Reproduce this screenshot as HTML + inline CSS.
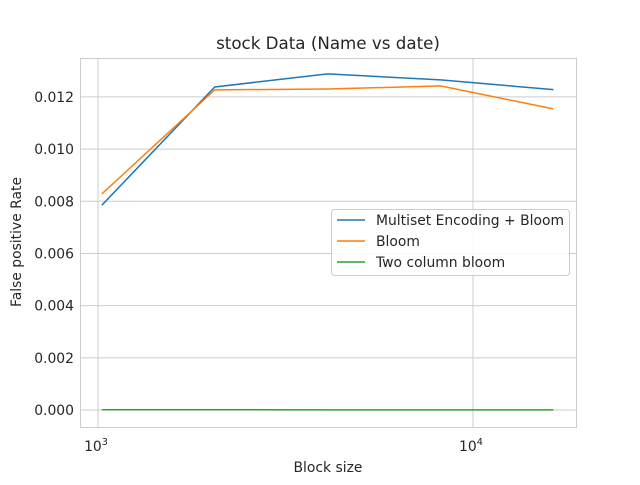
<!DOCTYPE html>
<html><head><meta charset="utf-8"><style>
body{margin:0;background:#fff;}
svg text{font-family:"DejaVu Sans","Liberation Sans",sans-serif;fill:#262626;}
</style></head><body>
<svg id="chart" width="640" height="480" xmlns="http://www.w3.org/2000/svg">
<rect width="640" height="480" fill="#fff"/>
<g id="grid"></g>
<rect x="80.5" y="58.5" width="496" height="369" fill="none" stroke="#cccccc" stroke-width="1"/>
<g id="series"></g>
<g id="ticks"></g>
<text x="328" y="49" text-anchor="middle" font-size="16.7">stock Data (Name vs date)</text>
<text x="328" y="472" text-anchor="middle" font-size="13.9">Block size</text>
<text transform="translate(21,242) rotate(-90)" text-anchor="middle" font-size="13.9">False positive Rate</text>
<g>
<rect x="331.5" y="209.5" width="238" height="66" rx="3" fill="#fff" fill-opacity="0.85" stroke="#cccccc"/>
<line x1="337" y1="220" x2="365" y2="220" stroke="#1f77b4" stroke-width="1.5"/>
<text x="376" y="225" font-size="13.9">Multiset Encoding + Bloom</text>
<line x1="337" y1="241" x2="365" y2="241" stroke="#ff7f0e" stroke-width="1.5"/>
<text x="376" y="246" font-size="13.9">Bloom</text>
<line x1="337" y1="262" x2="365" y2="262" stroke="#2ca02c" stroke-width="1.5"/>
<text x="376" y="267" font-size="13.9">Two column bloom</text>
</g>
</svg>
<script>
const blockSizes=[1024,2048,4096,8192,16384];
const multiset=[0.00785,0.01238,0.01288,0.01265,0.01228];
const bloom=[0.00828,0.01227,0.0123,0.01242,0.01154];
const twoCol=[0.00001,0.000012,0.000005,0.000005,0.000005];
const yTicks=[0,0.002,0.004,0.006,0.008,0.010,0.012];
const yTickLabels=["0.000","0.002","0.004","0.006","0.008","0.010","0.012"];
const xTicks=[1000,10000];
const xTickLabels=["3","4"];
const L=80,R=576,T=58,B=427;
const xmin=2.952,xmax=4.2747,ymin=-0.00065,ymax=0.01349;
const xs=v=>L+(Math.log10(v)-xmin)/(xmax-xmin)*(R-L);
const ys=v=>B-(v-ymin)/(ymax-ymin)*(B-T);
const NS="http://www.w3.org/2000/svg";
const grid=document.getElementById('grid'),ticks=document.getElementById('ticks'),series=document.getElementById('series');
function mk(tag,attrs,parent){const e=document.createElementNS(NS,tag);for(const k in attrs)e.setAttribute(k,attrs[k]);parent.appendChild(e);return e;}
yTicks.forEach((v,i)=>{const y=ys(v);
const g=mk('line',{x1:L,x2:R,y1:y,y2:y,stroke:'#cccccc'},grid);


const t=mk('text',{x:L-6,y:y+5,'text-anchor':'end','font-size':'13.9'},ticks);t.textContent=yTickLabels[i];


});
xTicks.forEach((v,i)=>{const x=xs(v);
const g=mk('line',{x1:x,x2:x,y1:T,y2:B,stroke:'#cccccc'},grid);


const t=mk('text',{x:x-2,y:451,'text-anchor':'middle','font-size':'13.9'},ticks);t.textContent='10';
const s=mk('tspan',{dy:-6,'font-size':'9.7'},t);s.textContent=xTickLabels[i];


});
[[multiset,'#1f77b4','line-multiset'],[bloom,'#ff7f0e','line-bloom'],[twoCol,'#2ca02c','line-two-column']].forEach(([d,c,n])=>{
const p=mk('polyline',{points:d.map((v,i)=>xs(blockSizes[i])+','+ys(v)).join(' '),fill:'none',stroke:c,'stroke-width':1.5},series);


});
</script>
</body></html>
